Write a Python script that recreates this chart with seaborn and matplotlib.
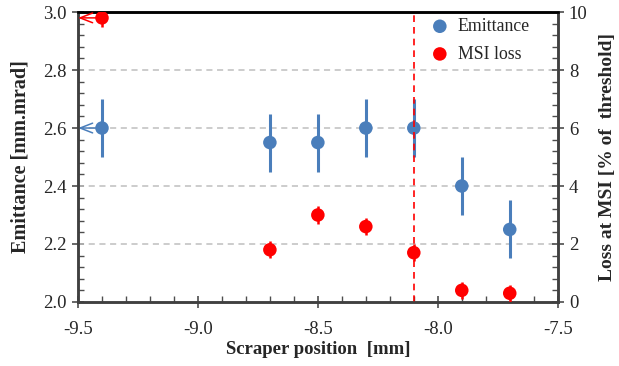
import numpy as np
import pandas as pd
import matplotlib
matplotlib.use("Agg")
import matplotlib.pyplot as plt
from matplotlib.ticker import MultipleLocator, FormatStrFormatter
import seaborn as sns

# data
pos = [-9.4, -8.7, -8.5, -8.3, -8.1, -7.9, -7.7]
emit = [2.60, 2.55, 2.55, 2.60, 2.60, 2.40, 2.25]
emit_err = [0.10, 0.10, 0.10, 0.10, 0.10, 0.10, 0.10]
loss = [9.8, 1.8, 3.0, 2.6, 1.7, 0.4, 0.3]
loss_err = [0.3, 0.3, 0.3, 0.3, 0.3, 0.3, 0.3]
cut_pos = -8.1

blue = "#4a7ebb"
red = "#ff0000"

sns.set_style("white", {"xtick.bottom": True, "ytick.left": True, "ytick.right": True})
plt.rcParams["font.family"] = ["Liberation Serif", "DejaVu Serif"]

df = pd.DataFrame({"pos": pos, "emit": emit, "loss": loss})

fig, ax = plt.subplots(figsize=(6.19, 3.66), dpi=100)
fig.subplots_adjust(left=0.126, right=0.901, top=0.967, bottom=0.175)
ax2 = ax.twinx()

ax.errorbar(pos, emit, yerr=emit_err, fmt="none", ecolor=blue, elinewidth=2.2, zorder=3)
sns.scatterplot(data=df, x="pos", y="emit", ax=ax, color=blue, s=95, edgecolor="none",
                zorder=4, label="Emittance", legend=False)
ax2.errorbar(pos, loss, yerr=loss_err, fmt="none", ecolor=red, elinewidth=1.8, zorder=3)
sns.scatterplot(data=df, x="pos", y="loss", ax=ax2, color=red, s=95, edgecolor="none",
                zorder=4, label="MSI loss", legend=False)

ax2.axvline(cut_pos, color=red, ls=(0, (4, 3)), lw=1.2, zorder=2)

# arrows pointing to the axis each series belongs to
arrow = "->,head_length=0.9,head_width=0.35"
ax2.annotate("", xy=(-9.5, loss[0]), xytext=(pos[0], loss[0]),
             arrowprops=dict(arrowstyle=arrow, color=red, lw=1.1, shrinkA=0, shrinkB=0))
ax.annotate("", xy=(-9.5, emit[0]), xytext=(pos[0], emit[0]),
            arrowprops=dict(arrowstyle=arrow, color=blue, lw=1.1, shrinkA=0, shrinkB=0))

ax.set_xlim(-9.5, -7.5)
ax.set_ylim(2.0, 3.0)
ax2.set_ylim(0, 10)
ax.xaxis.set_major_locator(MultipleLocator(0.5))
ax.xaxis.set_minor_locator(MultipleLocator(0.1))
ax.yaxis.set_major_locator(MultipleLocator(0.2))
ax.yaxis.set_minor_locator(MultipleLocator(0.04))
ax2.yaxis.set_major_locator(MultipleLocator(2))
ax2.yaxis.set_minor_locator(MultipleLocator(0.4))
ax.xaxis.set_major_formatter(FormatStrFormatter("%.1f"))
ax.yaxis.set_major_formatter(FormatStrFormatter("%.1f"))

for y in [2.2, 2.4, 2.6, 2.8]:
    ax.axhline(y, color="#bfbfbf", ls=(0, (4, 3)), lw=1.1, zorder=1)

spine_c = "#404040"
for a in (ax, ax2):
    for s in a.spines.values():
        s.set_color(spine_c)
        s.set_linewidth(1.8)
    a.spines["top"].set_color("black")
    a.tick_params(which="major", direction="inout", length=8, width=1.2, color="#4d4d4d",
                  labelsize=13.5, pad=4)
    a.tick_params(which="minor", direction="in", length=4, width=1.0, color="#4d4d4d")
ax.tick_params(axis="y", which="both", right=False)
ax2.tick_params(axis="x", which="both", bottom=False, top=False)

ax.tick_params(axis="x", which="major", pad=10)
ax.set_xlabel("Scraper position  [mm]", fontsize=13.5, fontweight="bold", labelpad=2)
ax.set_ylabel("Emittance [mm.mrad]", fontsize=14.5, fontweight="bold", labelpad=9)
ax2.set_ylabel("Loss at MSI [% of  threshold]", fontsize=14, fontweight="bold", labelpad=8)
ax2.set_xlabel("")

h1, l1 = ax.get_legend_handles_labels()
h2, l2 = ax2.get_legend_handles_labels()
ax2.legend(h1 + h2, l1 + l2, loc="upper right", bbox_to_anchor=(0.975, 1.035), frameon=False,
           fontsize=12.8, handletextpad=0.0, markerscale=1.0, labelspacing=0.6)

fig.savefig("out.png", dpi=100)
